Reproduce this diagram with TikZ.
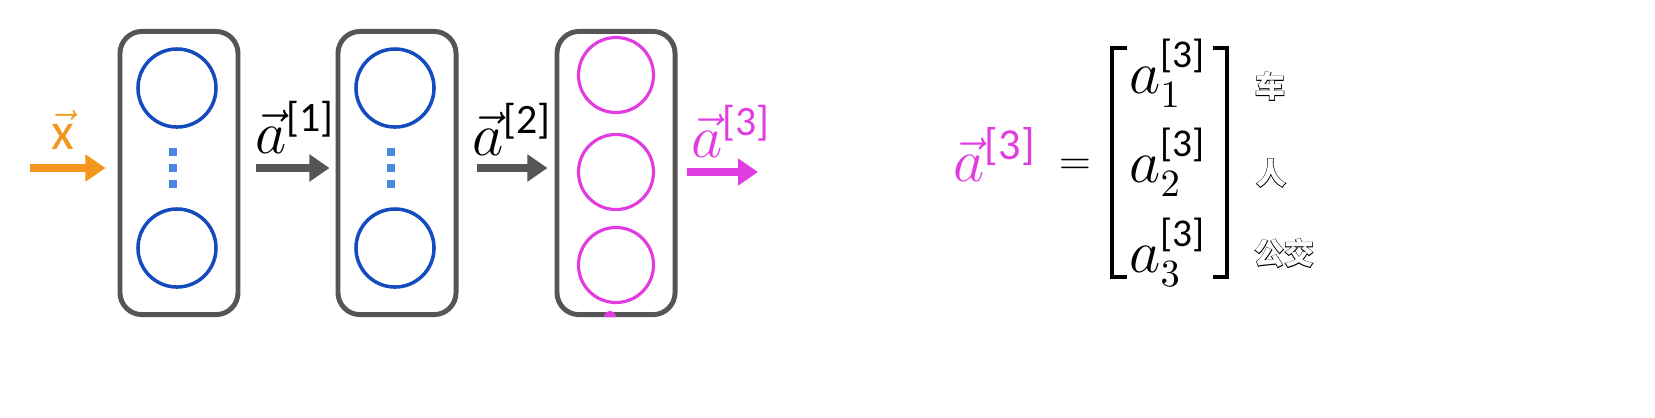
\documentclass[tikz,border=0pt]{standalone}
\usepackage{amsmath}
\usepackage{fontspec}
\setmainfont{Carlito}
\newfontfamily\cjk{Noto Sans CJK SC}
\newfontfamily\cjkthick{Noto Sans CJK SC}[FakeBold=4]
\usetikzlibrary{arrows.meta,calc}

\definecolor{layerblue}{RGB}{20,75,190}
\definecolor{dotblue}{RGB}{70,135,225}
\definecolor{outmag}{RGB}{225,60,225}
\definecolor{boxgray}{RGB}{85,85,85}
\definecolor{inorange}{RGB}{242,150,30}

% white caption text with a dark rim
\newcommand{\subtext}[1]{\rlap{\color{black}\cjkthick\bfseries #1}{\color{white}\cjk\bfseries #1}}

\begin{document}
\begin{tikzpicture}[x=0.01cm,y=-0.01cm,
    layer/.style={draw=boxgray,line width=1.4pt,rounded corners=0.22cm,minimum width=1.18cm,minimum height=2.83cm},
    unit/.style={circle,draw=layerblue,line width=1pt,minimum size=0.78cm,inner sep=0pt},
    outunit/.style={unit,draw=outmag,line width=0.9pt,minimum size=0.75cm},
    flow/.style={line width=2.5pt,-{Triangle[length=0.2cm,width=0.26cm]}},
    lbl/.style={font=\fontsize{17}{19}\selectfont,inner sep=0pt},
    classname/.style={font=\fontsize{8.5}{9}\selectfont,inner sep=0pt}]
    \useasboundingbox (0,0) rectangle (1655,417);

    % the three layers
    \node[layer] (box1) at (179,173) {};
    \node[layer] (box2) at (397,173) {};
    \node[layer] (box3) at (616,173) {};

    \node[unit] (u11) at (177,88) {};
    \node[unit] (u12) at (177,248) {};
    \node[unit] (u21) at (395,88) {};
    \node[unit] (u22) at (395,248) {};
    \node[outunit] (u31) at (616,75) {};
    \node[outunit] (u32) at (616,172) {};
    \node[outunit] (u33) at (616,265) {};

    \foreach \b in {1,2}
      \foreach \dy in {-16,0,16}
        \fill[dotblue] ($(u\b1)!0.5!(u\b2)+(-8,\dy-4)$) rectangle +(8,8);

    \fill[outmag] ([xshift=-0.12cm]box3.south) arc[start angle=180,end angle=0,radius=0.06cm] -- cycle;

    % activations passed along
    \coordinate (xin) at (30,168);
    \coordinate (aout) at (758,172);
    \draw[flow,inorange,shorten >=0.12cm] (xin) -- (box1.west|-xin);
    \draw[flow,boxgray,shorten <=0.15cm,shorten >=0.06cm] (box1.east|-xin) -- (box2.west|-xin);
    \draw[flow,boxgray,shorten <=0.18cm,shorten >=0.07cm] (box2.east|-xin) -- (box3.west|-xin);
    \draw[flow,outmag,shorten <=0.09cm] (box3.east|-aout) -- (aout);

    \node[lbl,inorange,font=\fontsize{15}{17}\selectfont] (xlbl) at (63,130) {$\vec{\mbox{x}}$};
    \node[lbl] (a1lbl) at (295,127) {$\vec{a}^{\text{[1]}}$};
    \node[lbl] (a2lbl) at (512,129) {$\vec{a}^{\text{[2]}}$};
    \node[lbl,outmag] (a3lbl) at (731,131) {$\vec{a}^{\text{[3]}}$};

    % output vector written out
    \node[lbl,outmag,font=\fontsize{18}{20}\selectfont] (lhs) at (995,154) {$\vec{a}^{\text{[3]}}$};
    \node[lbl,font=\fontsize{13}{15}\selectfont] (eq) at (1075,167) {$=$};
    \node[lbl,font=\fontsize{16}{18}\selectfont] (e1) at (1168,73) {$a^{\text{[3]}}_{1}$};
    \node[lbl,font=\fontsize{16}{18}\selectfont] (e2) at (1168,162) {$a^{\text{[3]}}_{2}$};
    \node[lbl,font=\fontsize{16}{18}\selectfont] (e3) at (1168,252) {$a^{\text{[3]}}_{3}$};
    \draw[line width=1.2pt] (1127,48) -- (1112,48) -- (1112,277) -- (1127,277);
    \draw[line width=1.2pt] (1213,48) -- (1227,48) -- (1227,277) -- (1213,277);

    \node[classname] (car) at (1270,86) {\subtext{车}};
    \node[classname] (person) at (1271,173) {\subtext{人}};
    \node[classname] (bus) at (1284,253) {\subtext{公交}};
\end{tikzpicture}
\end{document}
